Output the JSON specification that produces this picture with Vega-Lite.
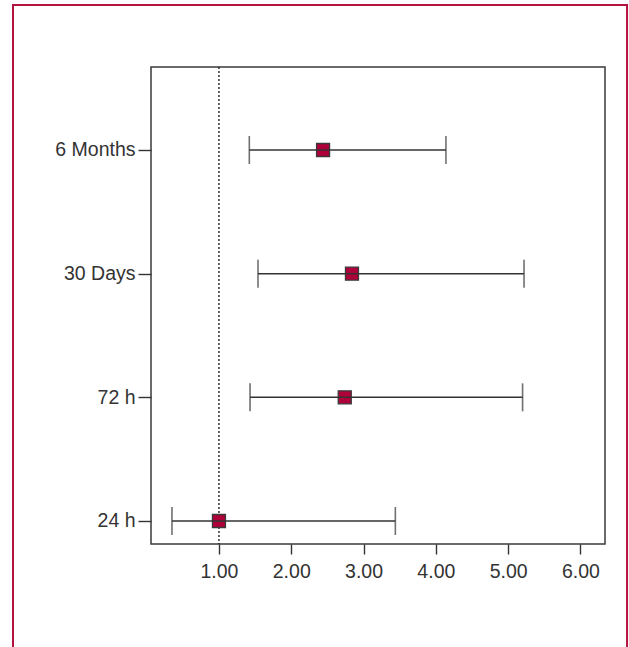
{
  "$schema": "https://vega.github.io/schema/vega-lite/v6.json",
  "width": 454,
  "height": 477,
  "autosize": {"type": "none"},
  "padding": {"left": 151, "top": 67, "right": 24, "bottom": 103},
  "background": "white",
  "config": {
    "view": {"stroke": "#3a3a3a", "strokeWidth": 1.5},
    "font": "Liberation Sans",
    "axis": {"grid": false, "domain": false, "tickColor": "#333333", "tickWidth": 1.4, "labelColor": "#333333", "labelFontSize": 19.5, "labelFont": "Liberation Sans"}
  },
  "data": {
    "values": [
      {"period": "6 Months", "pos": 4, "est": 2.44, "lo": 1.42, "hi": 4.14},
      {"period": "30 Days", "pos": 3, "est": 2.84, "lo": 1.54, "hi": 5.22},
      {"period": "72 h", "pos": 2, "est": 2.74, "lo": 1.43, "hi": 5.20},
      {"period": "24 h", "pos": 1, "est": 1.00, "lo": 0.35, "hi": 3.44}
    ]
  },
  "layer": [
    {
      "data": {"values": [{}]},
      "mark": {"type": "rect", "filled": false, "stroke": "#b5123f", "strokeWidth": 2, "clip": false},
      "encoding": {
        "x": {"datum": -1.849, "type": "quantitative", "title": null},
        "x2": {"datum": 6.645},
        "y": {"datum": 5.172, "type": "quantitative", "title": null},
        "y2": {"datum": -0.6}
      }
    },
    {
      "data": {"values": [{}]},
      "mark": {"type": "rule", "strokeDash": [2, 2], "color": "#222222", "strokeWidth": 1.4},
      "encoding": {
        "x": {"datum": 1, "type": "quantitative", "title": null}
      }
    },
    {
      "mark": {"type": "tick", "orient": "vertical", "size": 28, "thickness": 1.6, "color": "#333333"},
      "encoding": {
        "x": {"field": "lo", "type": "quantitative", "title": null},
        "y": {"field": "pos", "type": "quantitative", "title": null}
      }
    },
    {
      "mark": {"type": "tick", "orient": "vertical", "size": 28, "thickness": 1.6, "color": "#333333"},
      "encoding": {
        "x": {"field": "hi", "type": "quantitative", "title": null},
        "y": {"field": "pos", "type": "quantitative", "title": null}
      }
    },
    {
      "mark": {"type": "point", "shape": "square", "size": 169, "filled": true, "fill": "#b0003a", "stroke": "#3a3a3a", "strokeWidth": 1.3, "opacity": 1},
      "encoding": {
        "x": {"field": "est", "type": "quantitative", "title": null},
        "y": {"field": "pos", "type": "quantitative", "title": null}
      }
    },
    {
      "mark": {"type": "rule", "color": "#333333", "strokeWidth": 1.5},
      "encoding": {
        "x": {
          "field": "lo", "type": "quantitative", "title": null,
          "scale": {"domain": [0.06, 6.34], "nice": false, "zero": false},
          "axis": {"values": [1, 2, 3, 4, 5, 6], "format": ".2f", "tickSize": 10, "labelPadding": 8, "title": null}
        },
        "x2": {"field": "hi"},
        "y": {
          "field": "pos", "type": "quantitative", "title": null,
          "scale": {"domain": [0.814, 4.671], "nice": false, "zero": false},
          "axis": {"values": [1, 2, 3, 4], "tickSize": 13, "labelPadding": 3, "title": null,
            "labelExpr": "datum.value == 4 ? '6 Months' : datum.value == 3 ? '30 Days' : datum.value == 2 ? '72 h' : '24 h'"}
        }
      }
    }
  ]
}
